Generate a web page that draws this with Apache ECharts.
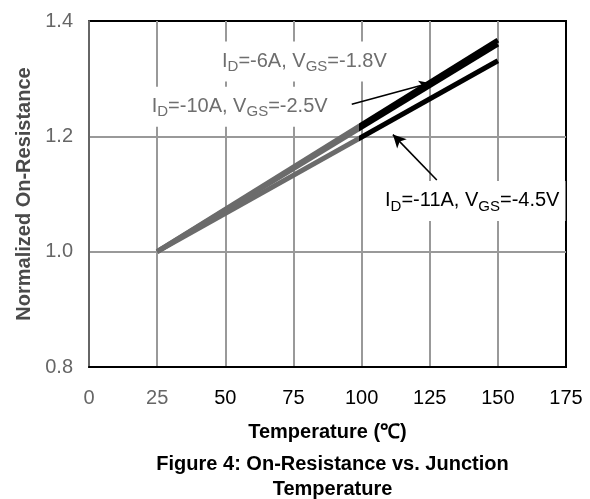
<!DOCTYPE html>
<html>
<head>
<meta charset="utf-8">
<script src="https://cdn.jsdelivr.net/npm/echarts@6/dist/echarts.min.js"></script>
<style>
  html, body { margin: 0; padding: 0; background: #fff; }
  #chart { width: 590px; height: 499px; }
</style>
</head>
<body>
<div id="chart"></div>
<script>
// Junction temperature (°C) at the two ends of each curve
const temps = [25, 150];
// Normalized on-resistance for each bias condition
const rdsId6 = [1.0, 1.367];   // ID=-6A, VGS=-1.8V
const rdsId10 = [1.0, 1.360];  // ID=-10A, VGS=-2.5V
const rdsId11 = [1.0, 1.331];  // ID=-11A, VGS=-4.5V

// Axis ranges and tick steps
const xRange = [0, 175], xStep = 25;
const yRange = [0.8, 1.4], yStep = 0.2;

// Temperature where the curves switch from grey to black
const shadeSplit = 99;

// Annotation anchors (data units): label corners and arrow ends
const labelId6 = [46.6, 1.3298];
const labelId10 = [20.8, 1.2514];
const labelId11 = [106.4, 1.0879];
const arrowUpper = [[96.4, 1.2556], [125.1, 1.2925]];
const arrowLower = [[127.6, 1.1243], [111.5, 1.203]];

const FONT = '"Liberation Sans", Arial, sans-serif';

function pairs(xs, ys) { return xs.map((x, i) => [x, ys[i]]); }

// Horizontal gradient across the curve's own extent with a hard colour change
function splitColor(xs) {
  const lo = Math.min.apply(null, xs), hi = Math.max.apply(null, xs);
  const f = (shadeSplit - lo) / (hi - lo);
  return new echarts.graphic.LinearGradient(0, 0, 1, 0, [
    { offset: 0, color: '#6b6b6b' },
    { offset: f, color: '#6b6b6b' },
    { offset: f, color: '#000' },
    { offset: 1, color: '#000' }
  ]);
}

const rich = {
  n: { fontSize: 20, fontFamily: FONT, lineHeight: 26, verticalAlign: 'middle' },
  s: { fontSize: 15, fontFamily: FONT, lineHeight: 15, verticalAlign: 'bottom' }
};
function subLabel(id, vgs, color) {
  const r = {
    n: Object.assign({}, rich.n, { color }),
    s: Object.assign({}, rich.s, { color })
  };
  return {
    show: true,
    position: 'right',
    distance: 0,
    backgroundColor: '#fff',
    padding: [7, 6, 7, 6],
    formatter: '{n|I}{s|D}{n|=' + id + ', V}{s|GS}{n|=' + vgs + '}',
    rich: r
  };
}

function arrow(ends) {
  return [{ coord: ends[0] }, { coord: ends[1] }];
}

function curveStyle() { return { width: 5, cap: 'butt', color: splitColor(temps) }; }

const chart = echarts.init(document.getElementById('chart'), null, { renderer: 'canvas' });
chart.setOption({
  animation: false,
  backgroundColor: '#fff',
  textStyle: { fontFamily: FONT },
  title: {
    text: 'Figure 4: On-Resistance vs. Junction\nTemperature',
    left: 327.5,
    top: 447,
    textAlign: 'center',
    textStyle: { fontSize: 20, fontWeight: 'bold', color: '#000', lineHeight: 25, fontFamily: FONT }
  },
  grid: {
    left: 89, right: 24, top: 21, bottom: 132,
    show: true, borderColor: '#000', borderWidth: 2, backgroundColor: 'transparent'
  },
  xAxis: {
    type: 'value',
    min: xRange[0], max: xRange[1], interval: xStep,
    axisLine: { show: true, lineStyle: { color: '#000', width: 2 } },
    axisTick: { show: false },
    splitLine: { show: true, showMinLine: false, showMaxLine: false, lineStyle: { color: '#999', width: 2 } },
    axisLabel: {
      fontSize: 20, margin: 21, fontFamily: FONT,
      color: (v) => (v <= 25 ? '#666' : '#000')
    },
    name: 'Temperature (℃)',
    nameLocation: 'middle',
    nameGap: 55,
    nameTextStyle: { fontSize: 20, fontWeight: 'bold', color: '#000', fontFamily: FONT }
  },
  yAxis: {
    type: 'value',
    min: yRange[0], max: yRange[1], interval: yStep,
    axisLine: { show: true, lineStyle: { color: '#666', width: 2 } },
    axisTick: { show: false },
    splitLine: { show: true, showMinLine: false, showMaxLine: false, lineStyle: { color: '#999', width: 2 } },
    axisLabel: {
      fontSize: 20, margin: 16, fontFamily: FONT, color: '#666',
      formatter: (v) => v.toFixed(1)
    },
    name: 'Normalized On-Resistance',
    nameLocation: 'middle',
    nameGap: 53,
    nameTextStyle: { fontSize: 20, fontWeight: 'bold', color: '#4a4a4a', fontFamily: FONT }
  },
  series: [
    {
      name: 'ID=-6A, VGS=-1.8V',
      type: 'line',
      data: pairs(temps, rdsId6),
      showSymbol: false,
      symbol: 'none',
      lineStyle: curveStyle(),
      z: 5,
      markPoint: {
        symbol: 'circle', symbolSize: 0,
        data: [{ coord: labelId6, label: subLabel('-6A', '-1.8V', '#6e6e6e') }]
      },
      markLine: {
        silent: true,
        symbol: ['none', 'arrow'],
        symbolSize: [8, 11],
        label: { show: false },
        lineStyle: { color: '#000', width: 1.6, type: 'solid' },
        data: [arrow(arrowUpper)]
      }
    },
    {
      name: 'ID=-10A, VGS=-2.5V',
      type: 'line',
      data: pairs(temps, rdsId10),
      showSymbol: false,
      symbol: 'none',
      lineStyle: curveStyle(),
      z: 5,
      markPoint: {
        symbol: 'circle', symbolSize: 0,
        data: [{ coord: labelId10, label: subLabel('-10A', '-2.5V', '#6e6e6e') }]
      }
    },
    {
      name: 'ID=-11A, VGS=-4.5V',
      type: 'line',
      data: pairs(temps, rdsId11),
      showSymbol: false,
      symbol: 'none',
      lineStyle: curveStyle(),
      z: 5,
      markPoint: {
        symbol: 'circle', symbolSize: 0,
        data: [{ coord: labelId11, label: subLabel('-11A', '-4.5V', '#000') }]
      },
      markLine: {
        silent: true,
        symbol: ['none', 'arrow'],
        symbolSize: [10, 13],
        label: { show: false },
        lineStyle: { color: '#000', width: 1.6, type: 'solid' },
        data: [arrow(arrowLower)]
      }
    }
  ]
});
</script>
</body>
</html>
